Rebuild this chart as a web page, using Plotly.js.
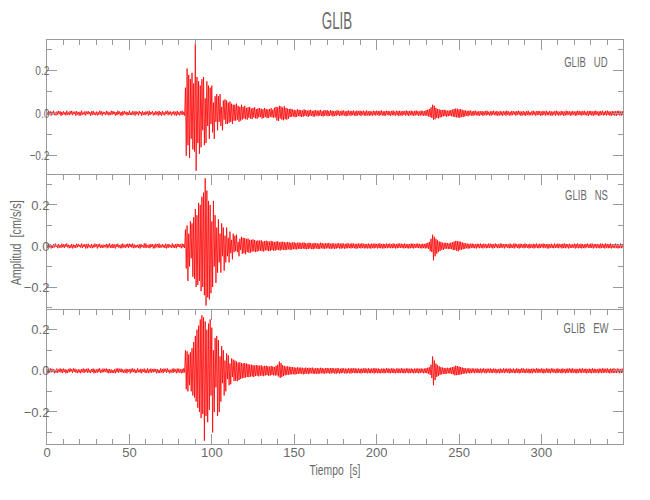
<!DOCTYPE html>
<html>
<head>
<meta charset="utf-8">
<script src="https://cdn.plot.ly/plotly-3.0.1.min.js"></script>
<style>html,body{margin:0;padding:0;background:#fff;}#chart{width:650px;height:500px;}</style>
</head>
<body>
<div id="chart"></div>
<script>
// Sampling of the traces (seconds)
const sampleInterval = 0.5;

// Panel labels, title and axis titles
const chartTitle = "GLIB";
const componentLabels = ["GLIB\u00a0\u00a0\u00a0UD", "GLIB\u00a0\u00a0\u00a0NS", "GLIB\u00a0\u00a0\u00a0EW"];
const xTitle = "Tiempo\u00a0\u00a0[s]";
const yTitle = "Amplitud\u00a0\u00a0[cm/s/s]";

// Amplitudes (cm/s/s), one value every 0.5 s from 0 s
const udAmp = [
.006,-.008,.01,-.005,.009,-.011,.007,-.006,.012,-.009,
.004,-.01,.008,-.007,.011,-.004,.009,-.012,.006,-.008,
.009,-.006,.005,-.01,.012,-.007,.004,-.009,.01,-.005,
.011,-.009,.007,-.004,.008,-.012,.01,-.006,.005,-.011,
.007,-.011,.012,-.008,.004,-.006,.009,-.01,.008,-.004,
.01,-.005,.006,-.012,.009,-.008,.011,-.007,.004,-.009,
.008,-.01,.005,-.007,.012,-.006,.009,-.011,.007,-.004,
.005,-.009,.011,-.006,.008,-.01,.004,-.008,.012,-.007,
.01,-.004,.007,-.011,.006,-.009,.012,-.005,.008,-.01,
.006,-.012,.009,-.007,.011,-.005,.007,-.01,.005,-.008,
.012,-.008,.004,-.009,.01,-.006,.008,-.011,.009,-.005,
.007,-.01,.011,-.004,.006,-.012,.01,-.007,.005,-.009,
.009,-.005,.008,-.011,.012,-.008,.006,-.004,.01,-.01,
.004,-.009,.01,-.006,.007,-.011,.011,-.008,.006,-.012,
.011,-.007,.005,-.01,.009,-.004,.012,-.009,.008,-.006,
.008,-.011,.006,-.005,.01,-.009,.007,-.012,.011,-.007,
.005,-.01,.009,-.006,.012,-.008,.007,-.011,
.12,-.2,.21,-.15,.18,-.21,.16,-.12,.19,-.17,
.14,-.18,.33,-.27,.17,-.14,.15,-.19,.13,-.16,
.16,-.08,.17,-.15,.07,-.14,.15,-.06,.13,-.12,
.12,-.05,.13,-.09,.05,-.12,.08,-.04,.09,-.08,
.08,-.04,.09,-.06,.03,-.08,.06,-.03,.065,-.05,
.06,-.05,.05,-.045,.055,-.04,.045,-.05,.04,-.035,
.04,-.035,.045,-.03,.035,-.04,.03,-.035,.04,-.03,
.03,-.025,.035,-.028,.025,-.03,.028,-.022,.03,-.025,
.022,-.027,.025,-.02,.028,-.024,.02,-.026,.023,-.019,
.024,-.018,.021,-.025,.019,-.022,.025,-.017,.02,-.023,
.018,-.022,.02,-.016,.024,-.019,.017,-.021,.026,-.02,
.03,-.034,.028,-.036,.035,-.025,.032,-.03,.027,-.033,
.033,-.028,.025,-.03,.022,-.026,.02,-.018,.021,-.017,
.018,-.015,.016,-.019,.014,-.017,.019,-.013,.016,-.015,
.015,-.017,.013,-.016,.018,-.012,.015,-.014,.012,-.017,
.014,-.012,.016,-.013,.011,-.015,.013,-.016,.015,-.011,
.012,-.014,.013,-.011,.016,-.013,.01,-.015,.014,-.012,
.013,-.011,.015,-.014,.01,-.012,.014,-.01,.012,-.015,
.011,-.013,.01,-.012,.014,-.009,.012,-.013,.01,-.011,
.012,-.01,.013,-.011,.009,-.014,.011,-.012,.013,-.009,
.01,-.012,.011,-.009,.013,-.011,.009,-.013,.012,-.01,
.011,-.009,.012,-.013,.01,-.008,.012,-.011,.009,-.012,
.013,-.01,.009,-.012,.011,-.01,.008,-.011,.012,-.009,
.01,-.011,.012,-.008,.01,-.012,.011,-.009,.013,-.01,
.009,-.012,.01,-.011,.012,-.008,.011,-.01,.009,-.012,
.011,-.009,.013,-.01,.008,-.011,.012,-.009,.01,-.013,
.012,-.01,.009,-.012,.011,-.008,.01,-.011,.013,-.009,
.01,-.013,.011,-.009,.012,-.01,.009,-.012,.011,-.01,
.013,-.009,.01,-.012,.009,-.011,.012,-.01,.011,-.012,
.01,-.012,.014,-.011,.016,-.015,.02,-.018,.028,-.022,
.04,-.03,.035,-.028,.025,-.022,.02,-.024,.018,-.02,
.016,-.018,.015,-.014,.017,-.013,.014,-.016,.012,-.014,
.013,-.012,.015,-.014,.017,-.016,.02,-.018,.022,-.019,
.021,-.02,.018,-.022,.02,-.017,.016,-.018,.014,-.015,
.013,-.012,.011,-.014,.012,-.01,.013,-.011,.009,-.012,
.011,-.009,.012,-.01,.008,-.011,.01,-.012,.009,-.008,
.01,-.012,.008,-.009,.011,-.01,.012,-.008,.007,-.011,
.009,-.011,.01,-.007,.012,-.009,.008,-.01,.011,-.012,
.007,-.01,.011,-.009,.008,-.012,.01,-.007,.009,-.011,
.012,-.008,.009,-.011,.007,-.01,.011,-.009,.01,-.006,
.008,-.011,.01,-.008,.012,-.007,.009,-.012,.008,-.01,
.011,-.009,.007,-.012,.01,-.008,.012,-.01,.006,-.009,
.009,-.01,.012,-.007,.008,-.011,.01,-.009,.011,-.008,
.01,-.012,.008,-.01,.011,-.007,.009,-.011,.012,-.009,
.007,-.009,.011,-.01,.009,-.012,.008,-.007,.01,-.011,
.012,-.008,.009,-.011,.007,-.01,.011,-.008,.009,-.012,
.008,-.01,.012,-.009,.01,-.007,.009,-.011,.008,-.01,
.011,-.007,.008,-.012,.009,-.01,.012,-.008,.01,-.009,
.009,-.011,.01,-.008,.012,-.009,.007,-.01,.011,-.012,
.01,-.008,.011,-.01,.008,-.012,.01,-.009,.012,-.007,
.008,-.012,.009,-.011,.01,-.008,.012,-.01,.007,-.009,
.011,-.01,.012,-.008,.009,-.011,.008,-.012,.01,-.009,
.009,-.011,.01,-.012,.011,-.008,.012,-.01,.008,-.011,
.01,-.009,.011
];

const nsAmp = [
.007,-.009,.011,-.006,.008,-.012,.005,-.01,.009,-.007,
.012,-.005,.006,-.011,.01,-.008,.004,-.009,.011,-.006,
.008,-.01,.009,-.004,.012,-.007,.006,-.011,.005,-.009,
.01,-.012,.007,-.008,.005,-.01,.011,-.006,.009,-.004,
.006,-.008,.012,-.01,.007,-.005,.009,-.012,.008,-.011,
.011,-.007,.004,-.009,.01,-.011,.006,-.008,.012,-.005,
.009,-.012,.008,-.006,.011,-.009,.005,-.01,.007,-.008,
.005,-.006,.01,-.011,.008,-.007,.012,-.009,.006,-.01,
.01,-.009,.007,-.012,.009,-.005,.011,-.008,.004,-.011,
.008,-.011,.012,-.007,.006,-.01,.009,-.006,.011,-.009,
.011,-.005,.009,-.008,.012,-.011,.007,-.009,.005,-.007,
.006,-.01,.008,-.012,.01,-.006,.004,-.008,.012,-.01,
.012,-.008,.005,-.009,.007,-.011,.01,-.005,.009,-.012,
.007,-.011,.011,-.006,.009,-.008,.012,-.01,.006,-.007,
.009,-.007,.006,-.01,.011,-.012,.008,-.009,.01,-.006,
.004,-.009,.012,-.008,.007,-.01,.009,-.011,.011,-.005,
.01,-.006,.008,-.011,.012,-.007,.009,-.01,
.08,-.11,.1,-.17,.06,-.1,.12,-.06,.11,-.15,
.14,-.16,.18,-.2,.15,-.19,.21,-.17,.2,-.22,
.24,-.2,.26,-.24,.33,-.29,.27,-.25,.22,-.26,
.2,-.23,.12,-.2,.22,-.1,.15,-.18,.09,-.13,
.13,-.08,.06,-.13,.11,-.05,.09,-.12,.05,-.08,
.09,-.05,.04,-.08,.07,-.035,.03,-.065,.06,-.03,
.05,-.025,.055,-.03,.02,-.05,.035,-.02,.045,-.038,
.04,-.035,.038,-.04,.035,-.03,.036,-.033,.03,-.032,
.03,-.028,.032,-.026,.029,-.03,.025,-.028,.027,-.024,
.026,-.023,.028,-.025,.022,-.027,.024,-.021,.026,-.022,
.023,-.025,.021,-.024,.025,-.02,.022,-.023,.02,-.022,
.021,-.019,.023,-.02,.018,-.022,.02,-.018,.021,-.019,
.019,-.02,.017,-.019,.02,-.016,.018,-.019,.016,-.018,
.017,-.015,.018,-.016,.015,-.017,.016,-.014,.017,-.015,
.015,-.014,.016,-.013,.017,-.015,.014,-.016,.013,-.015,
.016,-.012,.014,-.015,.012,-.016,.015,-.013,.014,-.012,
.013,-.015,.012,-.014,.016,-.011,.014,-.013,.012,-.014,
.014,-.012,.013,-.011,.015,-.013,.011,-.014,.013,-.012,
.012,-.014,.011,-.013,.012,-.01,.014,-.012,.011,-.013,
.013,-.011,.012,-.013,.01,-.012,.013,-.011,.012,-.01,
.011,-.012,.013,-.01,.012,-.011,.01,-.013,.011,-.012,
.012,-.01,.011,-.012,.013,-.009,.011,-.012,.01,-.011,
.01,-.012,.012,-.011,.009,-.013,.012,-.01,.011,-.012,
.012,-.009,.01,-.012,.011,-.01,.013,-.011,.009,-.012,
.011,-.012,.009,-.01,.012,-.011,.01,-.009,.012,-.011,
.009,-.011,.012,-.01,.011,-.012,.009,-.011,.012,-.009,
.012,-.01,.011,-.009,.01,-.012,.012,-.01,.009,-.011,
.01,-.012,.009,-.011,.012,-.01,.011,-.012,.01,-.009,
.011,-.009,.012,-.01,.01,-.011,.009,-.012,.011,-.01,
.01,-.012,.013,-.011,.015,-.014,.02,-.025,.035,-.03,
.055,-.07,.045,-.05,.035,-.038,.028,-.03,.022,-.025,
.02,-.018,.016,-.019,.015,-.014,.016,-.013,.014,-.015,
.013,-.014,.016,-.015,.018,-.02,.022,-.02,.025,-.023,
.024,-.026,.022,-.02,.021,-.018,.017,-.016,.015,-.014,
.013,-.011,.012,-.013,.01,-.012,.011,-.009,.012,-.01,
.01,-.011,.009,-.012,.011,-.008,.01,-.011,.012,-.009,
.009,-.012,.011,-.008,.01,-.011,.008,-.01,.012,-.009,
.011,-.008,.01,-.012,.009,-.01,.012,-.007,.009,-.011,
.008,-.01,.012,-.009,.011,-.008,.009,-.012,.01,-.007,
.01,-.009,.008,-.011,.012,-.01,.007,-.009,.011,-.012,
.012,-.007,.009,-.01,.008,-.012,.011,-.009,.01,-.008,
.009,-.011,.012,-.008,.01,-.009,.008,-.012,.011,-.01,
.007,-.009,.011,-.012,.009,-.008,.012,-.01,.008,-.011,
.011,-.01,.009,-.007,.012,-.011,.01,-.008,.009,-.012,
.01,-.012,.008,-.009,.011,-.01,.007,-.011,.012,-.009,
.008,-.009,.012,-.011,.01,-.007,.009,-.012,.011,-.01,
.012,-.011,.01,-.008,.009,-.012,.011,-.009,.007,-.01,
.009,-.008,.011,-.012,.01,-.009,.012,-.011,.008,-.01,
.011,-.012,.009,-.01,.008,-.011,.01,-.007,.012,-.009,
.008,-.01,.012,-.009,.011,-.012,.009,-.008,.01,-.011,
.01,-.009,.008,-.012,.012,-.01,.011,-.009,.009,-.012,
.012,-.008,.01,-.011,.009,-.01,.012,-.012,.008,-.009,
.009,-.011,.011,-.009,.01,-.012,.008,-.01,.012,-.011,
.01,-.008,.009
];

const ewAmp = [
.009,-.011,.006,-.008,.012,-.007,.01,-.005,.008,-.012,
.005,-.009,.011,-.01,.007,-.006,.012,-.008,.009,-.011,
.011,-.006,.008,-.012,.005,-.01,.009,-.007,.012,-.004,
.008,-.01,.012,-.005,.01,-.009,.006,-.011,.007,-.008,
.006,-.012,.009,-.007,.011,-.01,.008,-.006,.01,-.009,
.012,-.008,.005,-.011,.009,-.006,.011,-.012,.007,-.01,
.007,-.009,.01,-.006,.012,-.011,.005,-.008,.011,-.007,
.01,-.005,.011,-.009,.008,-.012,.009,-.01,.006,-.011,
.004,-.01,.008,-.012,.011,-.007,.012,-.009,.01,-.006,
.011,-.008,.007,-.01,.006,-.009,.01,-.012,.008,-.005,
.008,-.012,.01,-.007,.012,-.006,.009,-.011,.005,-.009,
.012,-.007,.006,-.009,.01,-.012,.008,-.005,.011,-.01,
.006,-.01,.012,-.011,.007,-.008,.011,-.009,.009,-.007,
.01,-.006,.009,-.012,.008,-.01,.005,-.011,.012,-.008,
.009,-.011,.011,-.005,.01,-.009,.012,-.007,.006,-.012,
.005,-.008,.01,-.01,.012,-.006,.007,-.012,.011,-.009,
.011,-.009,.007,-.012,.009,-.01,.012,-.008,
.1,-.09,.095,-.1,.08,-.07,.09,-.1,.11,-.12,
.14,-.13,.17,-.15,.2,-.18,.22,-.2,.25,-.23,
.27,-.21,.26,-.34,.24,-.22,.2,-.25,.23,-.19,
.25,-.12,.21,-.3,.1,-.2,.16,-.08,.17,-.22,
.15,-.2,.07,-.15,.12,-.06,.1,-.12,.05,-.1,
.085,-.04,.075,-.07,.035,-.065,.06,-.03,.055,-.05,
.05,-.048,.045,-.05,.04,-.045,.042,-.04,.038,-.036,
.036,-.034,.038,-.032,.035,-.03,.033,-.031,.03,-.028,
.03,-.027,.028,-.03,.026,-.025,.028,-.024,.026,-.027,
.025,-.023,.027,-.024,.022,-.026,.024,-.022,.025,-.021,
.022,-.024,.02,-.023,.024,-.02,.021,-.022,.019,-.023,
.025,-.022,.03,-.028,.045,-.035,.038,-.03,.028,-.025,
.024,-.022,.021,-.02,.022,-.019,.02,-.018,.019,-.017,
.018,-.016,.017,-.018,.015,-.016,.017,-.015,.016,-.014,
.016,-.014,.015,-.017,.013,-.015,.016,-.013,.014,-.016,
.015,-.013,.014,-.012,.016,-.014,.012,-.015,.013,-.014,
.014,-.015,.012,-.013,.015,-.012,.014,-.013,.011,-.014,
.013,-.012,.014,-.011,.012,-.014,.013,-.012,.014,-.011,
.012,-.013,.011,-.014,.013,-.011,.012,-.013,.01,-.012,
.013,-.01,.012,-.012,.011,-.013,.01,-.011,.013,-.012,
.011,-.013,.013,-.01,.012,-.011,.013,-.012,.01,-.011,
.012,-.011,.01,-.013,.011,-.01,.012,-.011,.013,-.01,
.01,-.012,.013,-.011,.01,-.012,.011,-.009,.012,-.013,
.013,-.01,.011,-.012,.012,-.011,.009,-.012,.011,-.01,
.011,-.012,.01,-.011,.013,-.009,.012,-.011,.01,-.012,
.012,-.01,.012,-.011,.009,-.012,.011,-.01,.012,-.011,
.01,-.011,.013,-.01,.011,-.012,.01,-.011,.012,-.009,
.012,-.012,.01,-.011,.012,-.01,.009,-.012,.011,-.011,
.011,-.01,.012,-.012,.01,-.011,.012,-.009,.01,-.012,
.011,-.01,.013,-.012,.015,-.014,.018,-.02,.03,-.035,
.07,-.07,.05,-.045,.035,-.03,.028,-.025,.022,-.02,
.018,-.017,.016,-.015,.014,-.016,.013,-.014,.015,-.012,
.014,-.013,.016,-.015,.018,-.017,.02,-.022,.025,-.021,
.023,-.02,.021,-.019,.018,-.017,.016,-.015,.014,-.013,
.012,-.013,.011,-.01,.013,-.012,.01,-.011,.012,-.009,
.011,-.012,.01,-.009,.012,-.011,.009,-.01,.011,-.012,
.01,-.008,.012,-.011,.009,-.012,.011,-.008,.01,-.01,
.012,-.01,.009,-.011,.011,-.008,.01,-.012,.008,-.009,
.009,-.012,.011,-.01,.008,-.009,.012,-.011,.01,-.008,
.011,-.009,.01,-.012,.012,-.01,.008,-.009,.011,-.011,
.008,-.011,.012,-.009,.01,-.012,.009,-.01,.012,-.008,
.012,-.01,.008,-.011,.011,-.009,.01,-.012,.009,-.011,
.01,-.012,.011,-.008,.009,-.01,.012,-.009,.011,-.01,
.009,-.008,.012,-.011,.01,-.012,.008,-.01,.012,-.009,
.011,-.01,.009,-.012,.012,-.008,.011,-.009,.008,-.011,
.01,-.011,.012,-.009,.008,-.01,.01,-.012,.011,-.008,
.009,-.012,.01,-.01,.011,-.009,.012,-.008,.01,-.011,
.012,-.009,.008,-.011,.01,-.012,.009,-.01,.011,-.009,
.01,-.011,.012,-.008,.009,-.01,.011,-.012,.008,-.01,
.011,-.01,.009,-.012,.012,-.009,.01,-.011,.009,-.008,
.008,-.012,.011,-.009,.01,-.011,.012,-.01,.011,-.009,
.01,-.009,.012,-.01,.008,-.012,.011,-.009,.01,-.011,
.012,-.01,.009,-.011,.011,-.008,.01,-.012,.009,-.01,
.011,-.009,.01
];

// Axis ranges and tick steps
const xRange = [0, 349.5];
const yRanges = [[-0.29, 0.344], [-0.312, 0.346], [-0.356, 0.296]];
const xTickStep = 50, xMinorStep = 10, yTickStep = 0.2, yMinorStep = 0.1;

const timesFor = arr => arr.map((_, i) => i * sampleInterval);

const FONT = "'Liberation Sans', Arial, sans-serif";
const AXIS_COLOR = "#9a9a9a";
const TEXT_COLOR = "#6a6a6a";
const RED = "#ff0000";

const series = [udAmp, nsAmp, ewAmp];
const traces = series.map((amp, k) => ({
  type: "scatter",
  mode: "lines",
  x: timesFor(amp),
  y: amp,
  xaxis: k === 0 ? "x" : "x" + (k + 1),
  yaxis: k === 0 ? "y" : "y" + (k + 1),
  line: {color: RED, width: 0.8},
  hoverinfo: "skip",
  showlegend: false
}));

const H = 404; // plot height px (top 40, bottom 444)
const domains = [[(444 - 175) / H, 1], [(444 - 310) / H, (444 - 175) / H], [0, (444 - 310) / H]];

function xAxis(k) {
  const last = k === 2;
  return {
    domain: [0, 1],
    range: xRange,
    anchor: k === 0 ? "y" : "y" + (k + 1),
    side: last ? "bottom" : "top",
    showticklabels: last,
    ticks: "inside",
    ticklen: 10,
    tickwidth: 1,
    tickcolor: AXIS_COLOR,
    dtick: xTickStep,
    tick0: 0,
    minor: {dtick: xMinorStep, tick0: 0, ticks: "inside", ticklen: 5, tickcolor: AXIS_COLOR, tickwidth: 1, showgrid: false},
    showline: true,
    linecolor: AXIS_COLOR,
    linewidth: 1,
    mirror: last ? "ticks" : false,
    showgrid: false,
    zeroline: false,
    ticklabelstandoff: -4,
    tickfont: {family: FONT, size: 13, color: TEXT_COLOR},
    title: last ? {text: xTitle, font: {family: FONT, size: 14, color: TEXT_COLOR}, standoff: 6} : {text: ""}
  };
}
function yAxis(k) {
  return {
    domain: domains[k],
    range: yRanges[k],
    anchor: k === 0 ? "x" : "x" + (k + 1),
    ticks: "inside",
    ticklen: 10,
    tickwidth: 1,
    tickcolor: AXIS_COLOR,
    dtick: yTickStep,
    tick0: 0,
    tickformat: ".1f",
    minor: {dtick: yMinorStep, tick0: 0, ticks: "inside", ticklen: 5, tickcolor: AXIS_COLOR, tickwidth: 1, showgrid: false},
    showline: true,
    linecolor: AXIS_COLOR,
    linewidth: 1,
    mirror: "ticks",
    showgrid: false,
    zeroline: false,
    ticklabelstandoff: -6,
    tickfont: {family: FONT, size: 13, color: TEXT_COLOR}
  };
}

const labelY = [(444 - 62) / H, (444 - 195) / H, (444 - 328) / H];
const annotations = componentLabels.map((txt, k) => ({
  text: txt, xref: "paper", yref: "paper",
  x: (586 - 47) / 576, y: labelY[k], xanchor: "center", yanchor: "middle",
  showarrow: false, font: {family: FONT, size: 14, color: TEXT_COLOR}
}));
const yTitleAnnotation = {
  text: yTitle, xref: "paper", yref: "paper", x: (15 - 47) / 576, y: (444 - 243) / H,
  xanchor: "center", yanchor: "middle", textangle: -90, showarrow: false,
  font: {family: FONT, size: 15, color: TEXT_COLOR}
};

const layout = {
  width: 650, height: 500,
  margin: {l: 47, r: 27, t: 40, b: 56, pad: 0},
  paper_bgcolor: "#ffffff", plot_bgcolor: "#ffffff",
  title: {text: chartTitle, x: 337 / 650, xanchor: "center", y: 1 - 21 / 500, yanchor: "middle",
          font: {family: FONT, size: 23, color: TEXT_COLOR}},
  xaxis: xAxis(0), xaxis2: xAxis(1), xaxis3: xAxis(2),
  yaxis: yAxis(0), yaxis2: yAxis(1), yaxis3: yAxis(2),
  annotations: annotations.concat([yTitleAnnotation]),
  showlegend: false
};

// Narrow the glyphs horizontally to mimic the condensed vector font of the original
function squeezeEl(el, sx) {
  const x = parseFloat(el.getAttribute("x")) || 0;
  const t = el.getAttribute("transform") || "";
  el.setAttribute("transform", t + " translate(" + x + ",0) scale(" + sx + ",1) translate(" + (-x) + ",0)");
}
function squeeze(root, selector, sx) {
  root.querySelectorAll(selector).forEach(el => squeezeEl(el, sx));
}

Plotly.newPlot("chart", traces, layout, {staticPlot: true, displayModeBar: false}).then(gd => {
  squeeze(gd, ".xtick text, .ytick text", 0.78);
  squeeze(gd, ".g-x3title text, .g-xtitle text", 0.74);
  squeeze(gd, ".g-gtitle text", 0.58);
  const ann = gd.querySelectorAll(".annotation-text");
  ann.forEach((el, i) => squeezeEl(el, i === ann.length - 1 ? 0.72 : 0.68));
});
</script>
</body>
</html>
